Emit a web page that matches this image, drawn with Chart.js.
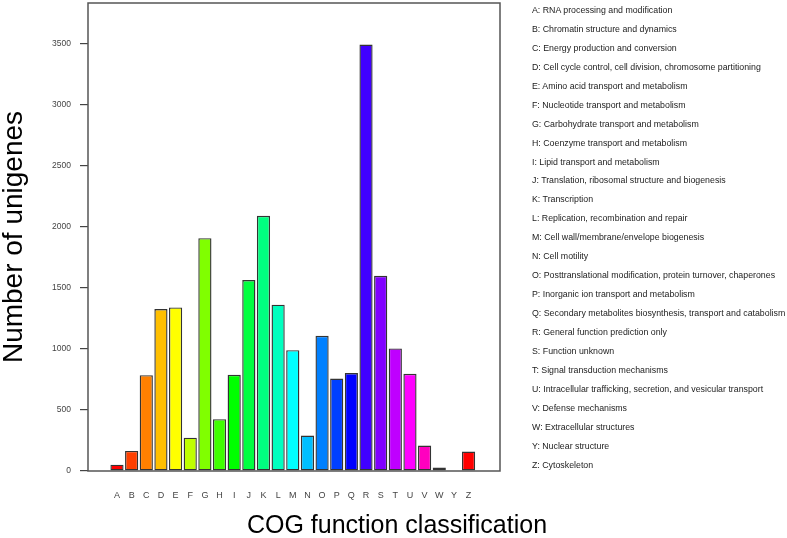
<!DOCTYPE html>
<html>
<head>
<meta charset="utf-8">
<script src="https://cdn.jsdelivr.net/npm/chart.js@4.4.1/dist/chart.umd.min.js"></script>
<style>
  html, body { margin: 0; padding: 0; background: #fff; }
  #wrap { position: relative; width: 787px; height: 538px; }
  #cog-chart { position: absolute; left: 0; top: 0; }
  #cog-legend {
    position: absolute; left: 532px; top: 3px; margin: 0; padding: 0;
    list-style: none; font-family: "Liberation Sans", Arial, sans-serif;
    font-size: 8.8px; color: #222;
  }
  #cog-legend li { height: 18.95px; line-height: 14px; white-space: nowrap; }
  #x-title {
    position: absolute; left: 0; width: 794px; top: 509px; text-align: center;
    font-family: "Liberation Sans", Arial, sans-serif; font-size: 25px; line-height: 30px; color: #000;
  }
</style>
</head>
<body>
<div id="wrap">
  <canvas id="cog-chart" width="787" height="538"></canvas>
  <ul id="cog-legend"></ul>
  <div id="x-title">COG function classification</div>
</div>
<script>
// COG categories
var letters = ['A', 'B', 'C', 'D', 'E', 'F', 'G', 'H', 'I', 'J', 'K', 'L', 'M',
    'N', 'O', 'P', 'Q', 'R', 'S', 'T', 'U', 'V', 'W', 'Y', 'Z'];

var descriptions = [
    'RNA processing and modification',
    'Chromatin structure and dynamics',
    'Energy production and conversion',
    'Cell cycle control, cell division, chromosome partitioning',
    'Amino acid transport and metabolism',
    'Nucleotide transport and metabolism',
    'Carbohydrate transport and metabolism',
    'Coenzyme transport and metabolism',
    'Lipid transport and metabolism',
    'Translation, ribosomal structure and biogenesis',
    'Transcription',
    'Replication, recombination and repair',
    'Cell wall/membrane/envelope biogenesis',
    'Cell motility',
    'Posttranslational modification, protein turnover, chaperones',
    'Inorganic ion transport and metabolism',
    'Secondary metabolites biosynthesis, transport and catabolism',
    'General function prediction only',
    'Function unknown',
    'Signal transduction mechanisms',
    'Intracellular trafficking, secretion, and vesicular transport',
    'Defense mechanisms',
    'Extracellular structures',
    'Nuclear structure',
    'Cytoskeleton'
];

var unigenes = [52, 164, 784, 1325, 1339, 273, 1905, 424, 787, 1563, 2088, 1361, 989,
    290, 1107, 757, 801, 3490, 1598, 1003, 795, 208, 28, 5, 159];

var barColors = ['#FF0000', '#FF4000', '#FF8000', '#FFBF00', '#FFFF00', '#BFFF00', '#80FF00',
    '#40FF00', '#00FF00', '#00FF40', '#00FF80', '#00FFBF', '#00FFFF', '#00BFFF', '#0080FF',
    '#0040FF', '#0000FF', '#4000FF', '#8000FF', '#BF00FF', '#FF00FF', '#FF00BF', '#FF0080',
    '#FF0040', '#FF0000'];

var yTicks = [0, 500, 1000, 1500, 2000, 2500, 3000, 3500];

// barplot style positions: bar width 1, gap 0.2
var centers = letters.map(function (l, i) { return 0.7 + 1.2 * i; });

// legend text on the right
var legend = document.getElementById('cog-legend');
letters.forEach(function (l, i) {
    var li = document.createElement('li');
    li.textContent = l + ': ' + descriptions[i];
    legend.appendChild(li);
});

var framePlugin = {
    id: 'frame',
    afterDatasetsDraw: function (chart) {
        var a = chart.chartArea;
        var ctx = chart.ctx;
        ctx.save();
        ctx.strokeStyle = '#555';
        ctx.lineWidth = 1.5;
        ctx.strokeRect(a.left, a.top, a.right - a.left, a.bottom - a.top);
        ctx.restore();
    }
};

var ctx = document.getElementById('cog-chart').getContext('2d');
var cogChart = new Chart(ctx, {
    type: 'bar',
    data: {
        datasets: [{
            label: 'Number of unigenes',
            data: unigenes.map(function (v, i) { return { x: centers[i], y: v }; }),
            backgroundColor: barColors,
            borderColor: '#333',
            borderWidth: 1.4,
            borderSkipped: false,
            barPercentage: 0.9,
            categoryPercentage: 1
        }]
    },
    plugins: [framePlugin],
    options: {
        responsive: false,
        animation: false,
        layout: { padding: { top: 3, right: 287, left: 0, bottom: 0 } },
        plugins: {
            legend: { display: false },
            tooltip: { enabled: false }
        },
        scales: {
            x: {
                type: 'linear',
                min: -1,
                max: 31.4,
                afterBuildTicks: function (scale) {
                    scale.ticks = centers.map(function (c) { return { value: c }; });
                },
                afterFit: function (scale) {
                    scale.height = 67;
                    scale.paddingLeft = 0;
                    scale.paddingRight = 0;
                },
                grid: { display: false },
                border: { display: false },
                ticks: {
                    autoSkip: false,
                    maxRotation: 0,
                    padding: 11,
                    color: '#444',
                    font: { family: '"Liberation Sans", Arial, sans-serif', size: 9 },
                    callback: function (value) {
                        var i = centers.findIndex(function (c) { return Math.abs(c - value) < 0.01; });
                        return i >= 0 ? letters[i] : '';
                    }
                }
            },
            y: {
                min: 0,
                max: 3830,
                afterBuildTicks: function (scale) {
                    scale.ticks = yTicks.map(function (v) { return { value: v }; });
                },
                afterFit: function (scale) {
                    scale.width = 88;
                    scale.paddingTop = 0;
                    scale.paddingBottom = 0;
                },
                grid: { drawOnChartArea: false, drawTicks: true, tickLength: 8, color: '#444', lineWidth: 1.2 },
                border: { display: false },
                ticks: {
                    padding: 9,
                    color: '#444',
                    font: { family: '"Liberation Sans", Arial, sans-serif', size: 8.5 },
                    callback: function (value) { return String(value); }
                },
                title: {
                    display: true,
                    text: 'Number of unigenes',
                    color: '#000',
                    padding: { top: 0, bottom: 0 },
                    font: { family: '"Liberation Sans", Arial, sans-serif', size: 28, lineHeight: 1 }
                }
            }
        }
    }
});
</script>
</body>
</html>
